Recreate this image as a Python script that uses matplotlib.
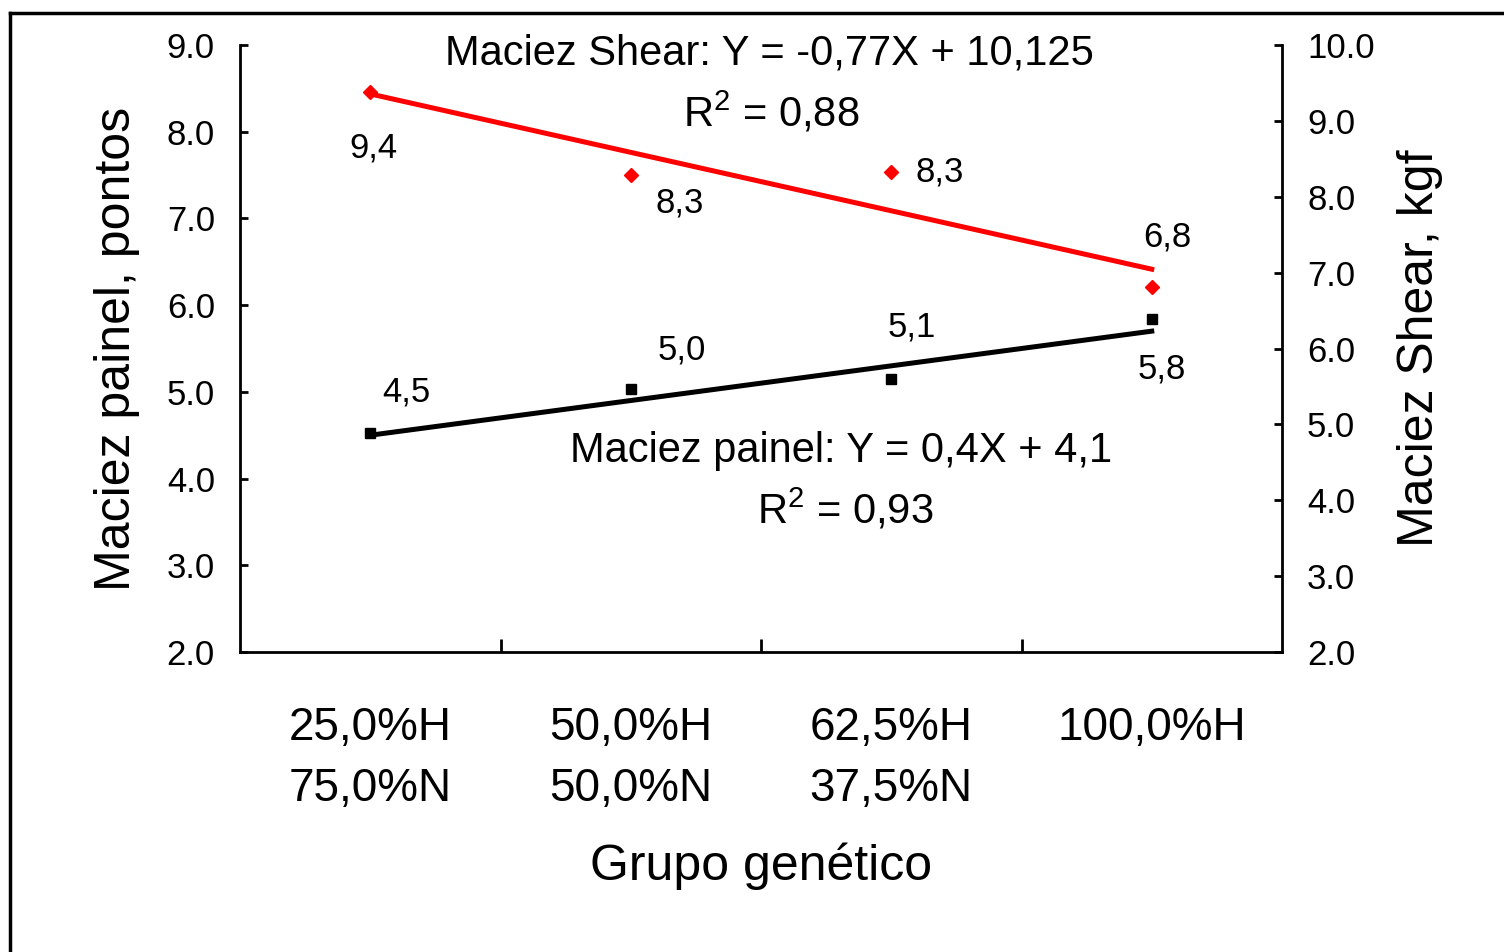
import matplotlib
matplotlib.use("Agg")
import matplotlib.pyplot as plt
from matplotlib.lines import Line2D
import numpy as np

plt.rcParams['font.family'] = ['Liberation Sans', 'DejaVu Sans']
plt.rcParams['mathtext.fontset'] = 'custom'
plt.rcParams['mathtext.rm'] = 'Liberation Sans'
plt.rcParams['mathtext.it'] = 'Liberation Sans'
plt.rcParams['mathtext.bf'] = 'Liberation Sans'

# ---- data ----
categories = ["25,0%H\n75,0%N", "50,0%H\n50,0%N", "62,5%H\n37,5%N", "100,0%H"]
painel = [4.52, 5.03, 5.15, 5.84]
painel_labels = ["4,5", "5,0", "5,1", "5,8"]
shear = [9.38, 8.29, 8.33, 6.81]
shear_labels = ["9,4", "8,3", "8,3", "6,8"]
painel_coef = (0.4, 4.1)      # Y = 0.4X + 4.1
shear_coef = (-0.77, 10.125)  # Y = -0.77X + 10.125
left_ticks = [2.0, 3.0, 4.0, 5.0, 6.0, 7.0, 8.0, 9.0]
right_ticks = [2.0, 3.0, 4.0, 5.0, 6.0, 7.0, 8.0, 9.0, 10.0]

W, H = 1504, 952
fig = plt.figure(figsize=(W / 100, H / 100), dpi=100)
ax = fig.add_axes([240 / W, 1 - 652 / H, (1282 - 240) / W, (652 - 45) / H])
ax2 = ax.twinx()

x = np.arange(len(categories))
X = x + 1

# trend lines
ax.plot(x, painel_coef[0] * X + painel_coef[1], color='black', lw=3.6, zorder=2)
ax2.plot(x, shear_coef[0] * X + shear_coef[1], color='#ff0000', lw=3.6, zorder=2)
# markers
ax.plot(x, painel, ls='none', marker='s', ms=7.5, color='black', zorder=3)
ax2.plot(x, shear, ls='none', marker='D', ms=7.5, color='#ff0000', zorder=3)

ax.set_xlim(-0.5, 3.5)
ax.set_ylim(2.0, 9.0)
ax2.set_ylim(2.0, 10.0)

ax.set_yticks(left_ticks)
ax.set_yticklabels([f"{v:.1f}" for v in left_ticks])
ax2.set_yticks(right_ticks)
ax2.set_yticklabels([f"{v:.1f}" for v in right_ticks])

ax.set_xticks(x)
ax.set_xticklabels(categories, linespacing=1.5)
ax.set_xticks([0.5, 1.5, 2.5], minor=True)
ax.tick_params(axis='x', which='major', length=0, pad=39, labelsize=33)
ax.tick_params(axis='x', which='minor', direction='in', length=9.5, width=2)
ax.tick_params(axis='y', direction='in', length=6, width=2, pad=18, labelsize=25)
ax2.tick_params(axis='y', direction='in', length=6, width=2, pad=18, labelsize=25)

for s in ['top', 'right']:
    ax.spines[s].set_visible(False)
for s in ['top', 'left', 'bottom']:
    ax2.spines[s].set_visible(False)
ax.spines['left'].set_linewidth(2)
ax.spines['bottom'].set_linewidth(2)
ax2.spines['right'].set_linewidth(2)

ax.set_xlabel("Grupo genético", fontsize=36)
ax.xaxis.label.set_va('center')
ax.xaxis.set_label_coords(0.5, (652 - 866) / 607)
ax.set_ylabel("Maciez painel, pontos", fontsize=36)
ax.yaxis.label.set_va('center')
ax.yaxis.set_label_coords((117 - 240) / 1042, 0.5)
ax2.set_ylabel("Maciez Shear, kgf", fontsize=36, rotation=90)
ax2.yaxis.label.set_va('center')
ax2.yaxis.set_label_coords((1420 - 240) / 1042, 0.5)

# data labels (offsets in points)
painel_off = [(26, 30), (37, 28), (15, 37), (7, -36)]
shear_off = [(2, -40), (35, -20), (35, 0), (11, 36)]
for i in range(4):
    ax.annotate(painel_labels[i], (x[i], painel[i]), xytext=painel_off[i],
                textcoords='offset points', ha='center', va='center', fontsize=25)
    ax2.annotate(shear_labels[i], (x[i], shear[i]), xytext=shear_off[i],
                 textcoords='offset points', ha='center', va='center', fontsize=25)

# equations
def figtxt(px, py, s, **kw):
    fig.text(px / W, 1 - py / H, s, ha='center', va='center', fontsize=30, **kw)

figtxt(769, 53, "Maciez Shear: Y = -0,77X + 10,125")
figtxt(771, 113, r"R$^2$ = 0,88")
figtxt(841, 451, "Maciez painel: Y = 0,4X + 4,1")
figtxt(845, 510, r"R$^2$ = 0,93")

# outer frame (left and top edges visible)
fig.add_artist(Line2D([10 / W, 10 / W], [0, 1 - 13 / H], color='black', lw=2.5,
                      transform=fig.transFigure))
fig.add_artist(Line2D([10 / W, 1], [1 - 13 / H, 1 - 13 / H], color='black', lw=2.5,
                      transform=fig.transFigure))

fig.savefig("out.png", dpi=100)
